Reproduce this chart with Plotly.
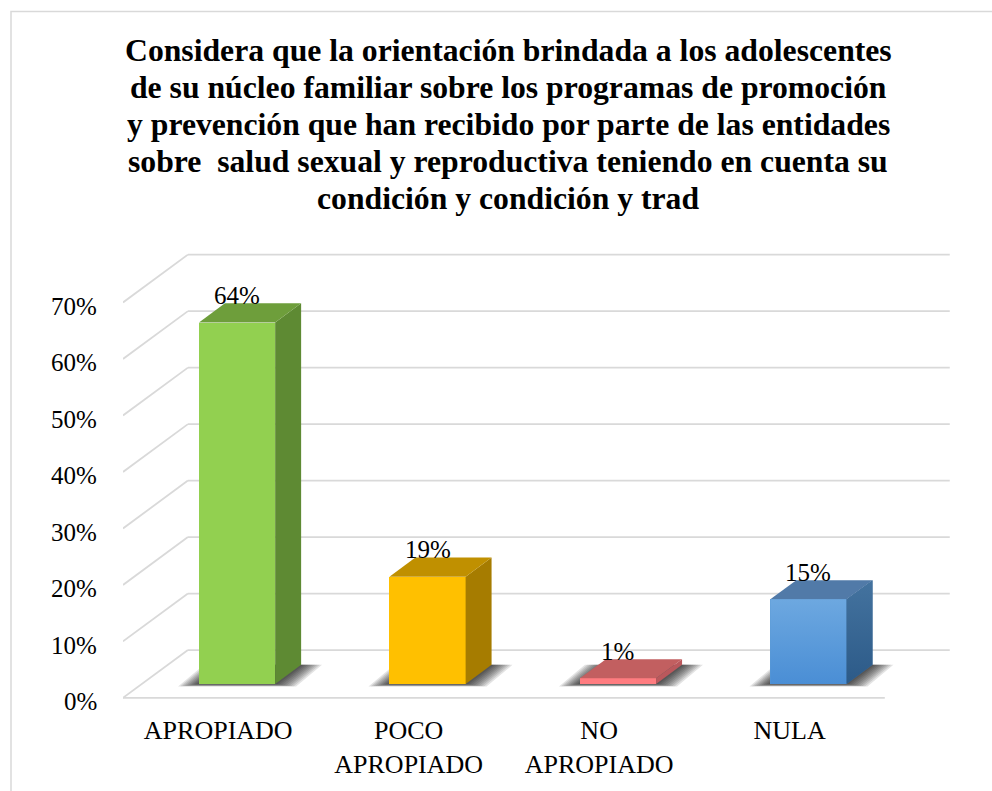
import plotly.graph_objects as go

# ---- data ----
categories = ["APROPIADO", "POCO<br>APROPIADO", "NO<br>APROPIADO", "NULA"]
values = [64, 19, 1, 15]
tick_values = [0, 10, 20, 30, 40, 50, 60, 70]
tick_labels = ["0%", "10%", "20%", "30%", "40%", "50%", "60%", "70%"]

title_lines = [
    "Considera que la orientación brindada a los adolescentes",
    "de su núcleo familiar sobre los programas de promoción",
    "y prevención que han recibido por parte de las entidades",
    "sobre  salud sexual y reproductiva teniendo en cuenta su",
    "condición y condición y trad",
]

# ---- styling ----
front_colors = ["#92D050", "#FFC000", "#FF7C80", "#5B9BD5"]
side_colors = ["#5E8A33", "#A67C00", "#BA585C", "#3A6A9A"]
top_colors = ["#6E9E3B", "#C09000", "#C25F60", "#517AA8"]
# vertical shading (top, bottom) of the last bar's faces
shade_front = ("#6DA8E0", "#4A8ED5")
shade_side = ("#44739F", "#2C5A88")
grid_color = "#D9D9D9"
serif = "Liberation Serif"

# oblique projection of the floor / walls (axis units)
DEPTH_X = 0.341   # horizontal shift, category units, front -> back wall
DEPTH_Y = 8.47    # vertical shift, percent units, front -> back wall
BAR_FRONT = 0.29  # depth fraction of the bar front face
BAR_BACK = 0.69   # depth fraction of the bar back face
BAR_W = 0.40      # bar width in category units

n = len(categories)
X_RANGE = [0, 4.4]
Y_RANGE = [-2.5, 80]
L, R, T, B = 123, 31, 246.4, 77

W = 992 - L - R
H = 791 - T - B

base = BAR_FRONT * DEPTH_Y
sdx = (BAR_BACK - BAR_FRONT) * DEPTH_X
sdy = (BAR_BACK - BAR_FRONT) * DEPTH_Y


def px_to_paper_x(px):
    return (px - L) / W


def px_to_paper_y(py):
    return (791 - B - py) / H


fig = go.Figure()
shapes = []

# walls: slanted lines on the left wall and horizontal lines on the back wall
for t in tick_values:
    shapes.append(dict(type="line", xref="x", yref="y", layer="below",
                       x0=0, y0=t, x1=DEPTH_X, y1=t + DEPTH_Y,
                       line=dict(color=grid_color, width=1.8)))
    shapes.append(dict(type="line", xref="x", yref="y", layer="below",
                       x0=DEPTH_X, y0=t + DEPTH_Y, x1=n + DEPTH_X, y1=t + DEPTH_Y,
                       line=dict(color=grid_color, width=1.8)))
# front edge of the floor
shapes.append(dict(type="line", xref="x", yref="y", layer="below",
                   x0=0, y0=tick_values[0], x1=n, y1=tick_values[0],
                   line=dict(color=grid_color, width=1.8)))

# soft shadows under each bar (stacked translucent footprints)
steps = 9
for i, v in enumerate(values):
    xc = i + 0.5 + BAR_FRONT * DEPTH_X
    xl, xr = xc - BAR_W / 2, xc + BAR_W / 2
    for k in range(steps, 0, -1):
        f = k / steps
        ex = 0.11 * f
        ey = 0.45 * f
        path = (f"M {xl - ex},{base - ey} L {xr + ex},{base - ey} "
                f"L {xr + sdx + ex},{base + sdy} L {xl + sdx - ex},{base + sdy} Z")
        shapes.append(dict(type="path", xref="x", yref="y", layer="below",
                           path=path, fillcolor="rgba(0,0,0,0.11)",
                           line=dict(width=0)))

# front faces
x_front = [i + 0.5 + BAR_FRONT * DEPTH_X for i in range(n)]
fig.add_trace(go.Bar(
    x=x_front, y=values, base=[base] * n, width=BAR_W,
    marker=dict(color=front_colors, line=dict(width=0)),
    hoverinfo="skip", showlegend=False,
))

# side and top faces
for i, v in enumerate(values):
    xl, xr = x_front[i] - BAR_W / 2, x_front[i] + BAR_W / 2
    yt = base + v
    fig.add_trace(go.Scatter(
        x=[xr, xr + sdx, xr + sdx, xr, xr],
        y=[base, base + sdy, yt + sdy, yt, base],
        fill="toself", fillcolor=side_colors[i], mode="lines",
        line=dict(width=0, color=side_colors[i]),
        hoverinfo="skip", showlegend=False,
    ))
    fig.add_trace(go.Scatter(
        x=[xl, xr, xr + sdx, xl + sdx, xl],
        y=[yt, yt, yt + sdy, yt + sdy, yt],
        fill="toself", fillcolor=top_colors[i], mode="lines",
        line=dict(width=0, color=top_colors[i]),
        hoverinfo="skip", showlegend=False,
    ))

# vertical shading on the last bar (front and side faces)
j = n - 1
xl, xr = x_front[j] - BAR_W / 2, x_front[j] + BAR_W / 2
yt = base + values[j]
for xs, ys, shade in (
    ([xl, xr, xr, xl, xl], [base, base, yt, yt, base], shade_front),
    ([xr, xr + sdx, xr + sdx, xr, xr], [base, base + sdy, yt + sdy, yt, base], shade_side),
):
    fig.add_trace(go.Scatter(
        x=xs, y=ys, fill="toself", mode="lines", line=dict(width=0),
        fillgradient=dict(type="vertical",
                          colorscale=[[0, shade[1]], [1, shade[0]]]),
        hoverinfo="skip", showlegend=False,
    ))

annotations = []

# value labels
for i, v in enumerate(values):
    annotations.append(dict(
        x=x_front[i], y=base + v + sdy, xref="x", yref="y",
        text=f"{v}%", showarrow=False, yanchor="middle", yshift=8,
        font=dict(family=serif, size=25, color="#000000"),
    ))

# percentage scale on the front edge of the left wall
for t, lab in zip(tick_values, tick_labels):
    annotations.append(dict(
        x=0, y=t, xref="paper", yref="y", xanchor="right", yanchor="middle",
        xshift=-24, yshift=-4, text=lab, showarrow=False,
        font=dict(family=serif, size=25, color="#000000"),
    ))

# title, one centred line per annotation
TITLE_X, TITLE_Y0, TITLE_STEP = 508, 50, 37.2
for k, line in enumerate(title_lines):
    annotations.append(dict(
        x=px_to_paper_x(TITLE_X), y=px_to_paper_y(TITLE_Y0 + k * TITLE_STEP),
        xref="paper", yref="paper", xanchor="center", yanchor="middle",
        text=f"<b>{line}</b>", showarrow=False,
        font=dict(family=serif, size=31.7, color="#000000"),
    ))

# chart frame (extends past the right and bottom edges of the page)
shapes.append(dict(type="rect", xref="paper", yref="paper", layer="below",
                   x0=px_to_paper_x(11), y0=px_to_paper_y(820),
                   x1=px_to_paper_x(1015), y1=px_to_paper_y(11),
                   line=dict(color="#D9D9D9", width=1.5), fillcolor="rgba(0,0,0,0)"))

fig.update_layout(
    width=992, height=791,
    margin=dict(l=L, r=R, t=T, b=B),
    paper_bgcolor="white", plot_bgcolor="white",
    font=dict(family=serif, color="#000000"),
    xaxis=dict(
        range=X_RANGE, showgrid=False, zeroline=False, showline=False,
        tickvals=[i + 0.5 for i in range(n)], ticktext=categories,
        tickfont=dict(family=serif, size=26, color="#000000"),
        ticks="", fixedrange=True,
    ),
    yaxis=dict(
        range=Y_RANGE, showgrid=False, zeroline=False, showline=False,
        showticklabels=False, ticks="", fixedrange=True,
    ),
    shapes=shapes,
    annotations=annotations,
    bargap=0,
)

fig.write_html("out.html")
